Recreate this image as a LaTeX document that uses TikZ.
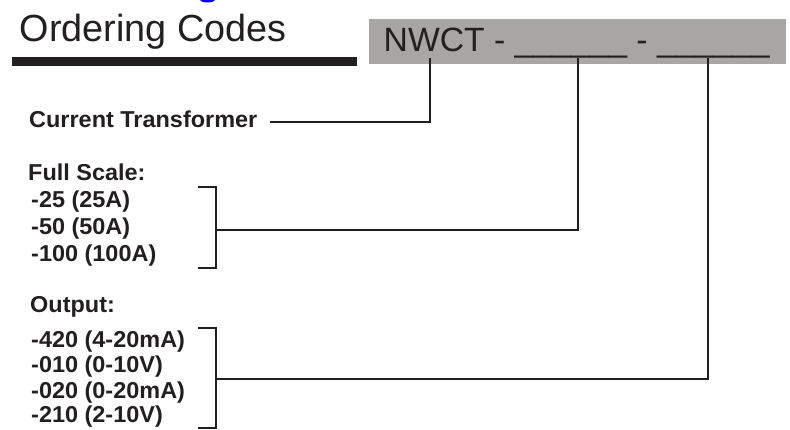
\documentclass[tikz,border=0pt]{standalone}
\usepackage{fontspec}
\setmainfont{Liberation Sans}
\newfontfamily\lblfam{Liberation Sans}[FakeStretch=1.02]
\newcommand\lblfont{\lblfam\bfseries\fontsize{23}{26}\selectfont}
\newcommand\titlefont{\fontsize{37.8}{42}\selectfont}
\newcommand\codefont{\fontsize{33.7}{38}\selectfont}
\definecolor{ink}{HTML}{231F20}
\definecolor{boxgray}{HTML}{A7A6A4}
\tikzset{
  lbl/.style={anchor=base west, inner sep=0pt, font=\lblfont, text=ink},
  conn/.style={draw=ink, line width=2pt},
}
\begin{document}
\begin{tikzpicture}[x=1pt, y=-1pt]
\useasboundingbox (0,0) rectangle (790,430);
% blue fragment at top
\fill[blue!90!black] (207.5,-0.5) ellipse (7.5 and 3);
% title and bar
\node[anchor=base west, inner sep=0pt, font=\titlefont, text=ink] (title) at (19.5,41.5) {Ordering Codes};
\fill[ink] (12,57) rectangle (357,66);
% code box
\fill[boxgray] (369,19) rectangle (786,64);
\node[anchor=base west, inner sep=0pt, font=\codefont, text=ink] (code) at (383.5,52) {NWCT - \_\_\_\_\_\_ - \_\_\_\_\_\_};
% labels
\node[lbl] (ct) at (29,128) {Current Transformer};
\node[lbl] (fs) at (28,181) {Full Scale:};
\node[lbl] (fs1) at (31,208) {-25 (25A)};
\node[lbl] (fs2) at (31,235) {-50 (50A)};
\node[lbl] (fs3) at (31,262) {-100 (100A)};
\node[lbl] (out) at (30,313) {Output:};
\node[lbl] (o1) at (31,348) {-420 (4-20mA)};
\node[lbl] (o2) at (31,372) {-010 (0-10V)};
\node[lbl] (o3) at (31,398) {-020 (0-20mA)};
\node[lbl] (o4) at (31,422) {-210 (2-10V)};
% connector points
\coordinate (t1) at (430,58);
\coordinate (t2) at (578,58);
\coordinate (t3) at (708,58);
\coordinate (ctend) at (270,122);
\coordinate (b1mid) at (216,230);
\coordinate (b2mid) at (216,379);
% brackets
\draw[conn] (198,187) -- (216,187) -- (216,268) -- (198,268);
\draw[conn] (198,328) -- (216,328) -- (216,428) -- (198,428);
% connectors
\draw[conn] (t1) |- (ctend);
\draw[conn] (t2) |- (b1mid);
\draw[conn] (t3) |- (b2mid);
\end{tikzpicture}
\end{document}
